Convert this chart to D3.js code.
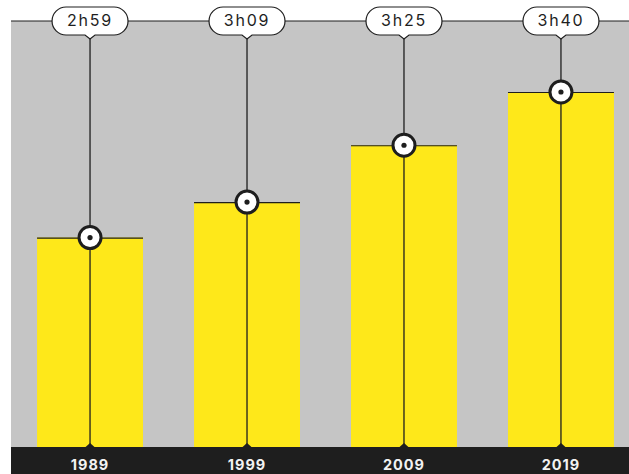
<!DOCTYPE html>
<html>
<head>
<meta charset="utf-8">
<script src="https://cdn.jsdelivr.net/npm/d3@7"></script>
<style>
  body { margin: 0; background: #fff; }
  svg { display: block; }
</style>
</head>
<body>
<div id="chart"></div>
<script>
const wh = 629,
    ht = 474;

// minutes per day
const years = ["1989", "1999", "2009", "2019"];
const minutes = [179, 189, 205, 220];
const labels = ["2h59", "3h09", "3h25", "3h40"];

const dark = "#1e1e1e";

const svg = d3.select("#chart")
    .append("svg")
    .attr("width", wh)
    .attr("height", ht);

const x = d3.scaleBand()
    .domain(years)
    .range([11, 640])
    .paddingInner(0.325)
    .paddingOuter(0.166);

const y = d3.scaleLinear()
    .domain([120, 240])
    .range([447, 21]);

// background
svg.append("rect")
    .attr("x", 11).attr("y", y(240))
    .attr("width", wh - 11).attr("height", y(120) - y(240))
    .attr("fill", "#c5c5c5");

svg.append("line")
    .attr("x1", 11).attr("x2", wh)
    .attr("y1", y(240)).attr("y2", y(240))
    .attr("stroke", dark).attr("stroke-width", 1.2);

const data = years.map(function(d, i) {
    return { year: d, value: minutes[i], label: labels[i] };
});

// bars
svg.selectAll("rect.bar").data(data)
    .enter()
    .append("rect")
    .attr("class", "bar")
    .attr("x", function(d) { return x(d.year); })
    .attr("y", function(d) { return y(d.value); })
    .attr("width", x.bandwidth())
    .attr("height", function(d) { return y(120) - y(d.value); })
    .attr("fill", "#fee81a");

svg.selectAll("line.top").data(data)
    .enter()
    .append("line")
    .attr("class", "top")
    .attr("x1", function(d) { return x(d.year); })
    .attr("x2", function(d) { return x(d.year) + x.bandwidth(); })
    .attr("y1", function(d) { return y(d.value) + 0.5; })
    .attr("y2", function(d) { return y(d.value) + 0.5; })
    .attr("stroke", dark).attr("stroke-width", 1.2);

// bottom band
svg.append("rect")
    .attr("x", 11).attr("y", y(120))
    .attr("width", wh - 11).attr("height", ht - y(120))
    .attr("fill", dark);

const cx = function(d) { return x(d.year) + x.bandwidth() / 2; };

// stems
svg.selectAll("line.stem").data(data)
    .enter()
    .append("line")
    .attr("class", "stem")
    .attr("x1", cx).attr("x2", cx)
    .attr("y1", 38).attr("y2", y(120))
    .attr("stroke", dark).attr("stroke-width", 1.3);

svg.selectAll("path.tick").data(data)
    .enter()
    .append("path")
    .attr("class", "tick")
    .attr("d", function(d) {
        const c = cx(d), b = y(120);
        return "M" + (c - 5) + "," + (b + 0.5) + "L" + c + "," + (b - 4) + "L" + (c + 5) + "," + (b + 0.5) + "Z";
    })
    .attr("fill", dark);

// pills
const pw = 76, ph = 28, r = 14, pillTop = 7;
svg.selectAll("path.pill").data(data)
    .enter()
    .append("path")
    .attr("class", "pill")
    .attr("d", function(d) {
        const c = cx(d), b = pillTop + ph;
        return "M" + (c - pw / 2 + r) + "," + pillTop +
            "H" + (c + pw / 2 - r) +
            "A" + r + "," + r + " 0 0 1 " + (c + pw / 2 - r) + "," + b +
            "H" + (c + 5) + "L" + c + "," + (b + 4) + "L" + (c - 5) + "," + b +
            "H" + (c - pw / 2 + r) +
            "A" + r + "," + r + " 0 0 1 " + (c - pw / 2 + r) + "," + pillTop + "Z";
    })
    .attr("fill", "#fff")
    .attr("stroke", dark)
    .attr("stroke-width", 1.2);

svg.selectAll("text.lab").data(data)
    .enter()
    .append("text")
    .attr("class", "lab")
    .attr("x", cx)
    .attr("y", 26)
    .attr("text-anchor", "middle")
    .attr("font-family", "Inter, sans-serif")
    .attr("font-size", 16)
    .attr("letter-spacing", 1.8)
    .attr("fill", dark)
    .text(function(d) { return d.label; });

// markers
svg.selectAll("circle.mark").data(data)
    .enter()
    .append("circle")
    .attr("class", "mark")
    .attr("cx", cx)
    .attr("cy", function(d) { return y(d.value); })
    .attr("r", 11)
    .attr("fill", "#fff")
    .attr("stroke", dark)
    .attr("stroke-width", 3);

svg.selectAll("circle.dot").data(data)
    .enter()
    .append("circle")
    .attr("class", "dot")
    .attr("cx", cx)
    .attr("cy", function(d) { return y(d.value); })
    .attr("r", 2.6)
    .attr("fill", dark);

// years
svg.selectAll("text.year").data(data)
    .enter()
    .append("text")
    .attr("class", "year")
    .attr("x", cx)
    .attr("y", 469.5)
    .attr("text-anchor", "middle")
    .attr("font-family", "Inter, sans-serif")
    .attr("font-weight", 700)
    .attr("font-size", 14.5)
    .attr("letter-spacing", 1)
    .attr("fill", "#f2f2f2")
    .text(function(d) { return d.year; });
</script>
</body>
</html>
